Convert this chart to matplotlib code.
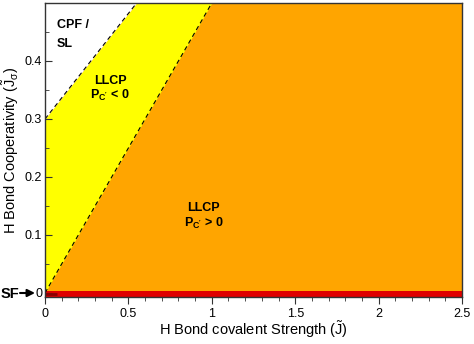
import numpy as np
import matplotlib
matplotlib.use("Agg")
import matplotlib.pyplot as plt
from matplotlib.ticker import MultipleLocator, FixedLocator

plt.rcParams["font.family"] = ["Liberation Sans", "DejaVu Sans"]

# boundary lines: J_sigma = intercept + slope * J
x_range = [0.0, 2.5]
upper_intercept, upper_slope = 0.30, 0.364   # CPF/SL  |  LLCP (P<0)
lower_intercept, lower_slope = 0.0, 0.50     # LLCP P<0 | LLCP P>0
y_top = 0.5
y_bottom = -0.007
x_ticks = [0, 0.5, 1, 1.5, 2, 2.5]
x_tick_labels = ["0", "0.5", "1", "1.5", "2", "2.5"]
y_ticks = [0, 0.1, 0.2, 0.3, 0.4]
y_tick_labels = ["0", "0.1", "0.2", "0.3", "0.4"]

fig = plt.figure(figsize=(4.74, 3.44), dpi=100)
ax = fig.add_axes([45 / 474, 1 - 297 / 344, 417 / 474, 294 / 344])

xs = np.linspace(x_range[0], x_range[1], 400)
y_up = upper_intercept + upper_slope * xs
y_lo = lower_intercept + lower_slope * xs

ax.fill_between(xs, y_bottom, y_top, color="#ffa500", lw=0)
ax.fill_between(xs, np.minimum(y_lo, y_top), np.minimum(y_up, y_top),
                color="#ffff00", lw=0)
ax.fill_between(xs, np.minimum(y_up, y_top), y_top, color="white", lw=0)
ax.plot(xs, y_up, color="black", ls=(0, (4, 3)), lw=0.8)
ax.plot(xs, y_lo, color="black", ls=(0, (4, 3)), lw=0.8)

# SF line at J_sigma = 0
ax.axhspan(y_bottom, 0.0025, color="#e00000", lw=0)
ax.plot([0, 0.07], [-0.002, -0.002], color="#8b0000", lw=2, solid_capstyle="butt")

ax.set_xlim(*x_range)
ax.set_ylim(y_bottom, y_top)

ax.text(0.07, 0.462, "CPF /", fontsize=9, fontweight="bold", ha="left", va="center")
ax.text(0.07, 0.430, "SL", fontsize=9, fontweight="bold", ha="left", va="center")
ax.text(0.39, 0.366, "LLCP", fontsize=9, fontweight="bold", ha="center", va="center")
ax.text(0.39, 0.340, r"P$_{\mathregular{C'}}$ < 0", fontsize=9, fontweight="bold",
        ha="center", va="center")
ax.text(0.95, 0.146, "LLCP", fontsize=9, fontweight="bold", ha="center", va="center")
ax.text(0.95, 0.120, r"P$_{\mathregular{C'}}$ > 0", fontsize=9, fontweight="bold",
        ha="center", va="center")

ax.xaxis.set_major_locator(FixedLocator(x_ticks))
ax.set_xticklabels(x_tick_labels)
ax.xaxis.set_minor_locator(MultipleLocator(0.1))
ax.yaxis.set_major_locator(FixedLocator(y_ticks))
ax.set_yticklabels(y_tick_labels)
ax.yaxis.set_minor_locator(MultipleLocator(0.05))
ax.tick_params(axis="x", which="both", direction="out", labelsize=9, color="#333333")
ax.tick_params(axis="x", which="major", length=5, pad=3)
ax.tick_params(axis="x", which="minor", length=3)
ax.tick_params(axis="y", which="both", direction="in", labelsize=9, color="#333333", pad=2)
ax.tick_params(axis="y", which="major", length=5)
ax.tick_params(axis="y", which="minor", length=3)
for s in ax.spines.values():
    s.set_color("#333333")
    s.set_linewidth(1.0)

ax.set_xlabel(r"H Bond covalent Strength ($\mathregular{\tilde{J}}$)", fontsize=10.5, labelpad=-1)
ax.set_ylabel(r"H Bond Cooperativity ($\mathregular{\tilde{J}_\sigma}$)", fontsize=10.5, labelpad=3)

fig.text(1 / 474, 1 - 294 / 344, "SF", fontsize=10.5, fontweight="bold",
         ha="left", va="center")
ax.annotate("", xy=(35, 344 - 293), xycoords="figure pixels",
            xytext=(20, 344 - 293), textcoords="figure pixels",
            arrowprops=dict(arrowstyle="-|>", color="black", lw=1.5,
                            shrinkA=0, shrinkB=0, mutation_scale=11),
            annotation_clip=False)

fig.savefig("out.png", dpi=100)
